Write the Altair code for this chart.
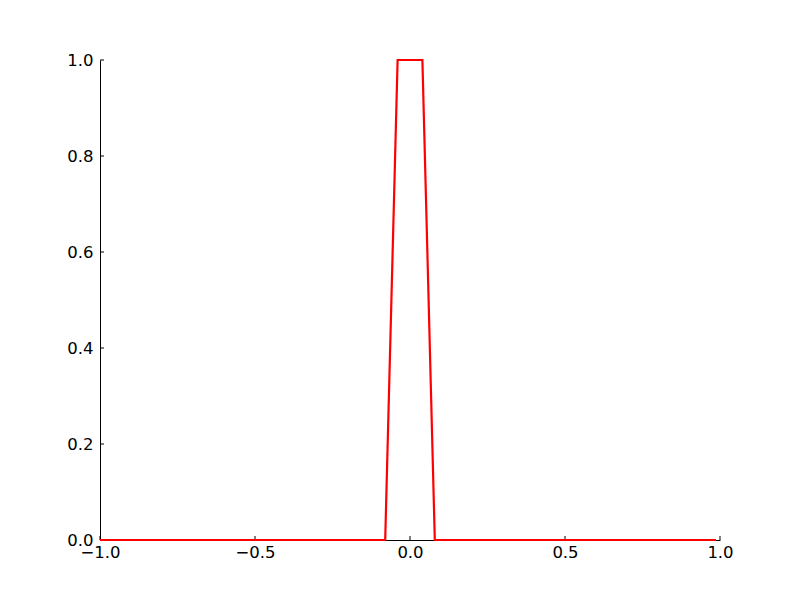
import altair as alt
import pandas as pd

# key points of the curve (x, y)
xs = [-1.0, -0.08, -0.04, 0.04, 0.08, 0.987]
ys = [0.0, 0.0, 1.0, 1.0, 0.0, 0.0]

xticks = [-1.0, -0.5, 0.0, 0.5, 1.0]
yticks = [0.0, 0.2, 0.4, 0.6, 0.8, 1.0]

line_df = pd.DataFrame({"x": xs, "y": ys})
xt_df = pd.DataFrame({"v": xticks})
yt_df = pd.DataFrame({"v": yticks})

FONT = "DejaVu Sans"
minus = "replace(datum.label, '-', '\u2212')"

xscale = alt.Scale(domain=[-1, 1], nice=False, zero=False)
yscale = alt.Scale(domain=[0, 1], nice=False, zero=False)

line = alt.Chart(line_df).mark_line(color="#ff0000", strokeWidth=2.2).encode(
    x=alt.X("x:Q", scale=xscale, title=None,
            axis=alt.Axis(values=xticks, format=".1f", labelExpr=minus, ticks=False,
                          grid=False, domainColor="black", domainWidth=1,
                          labelFont=FONT, labelFontSize=16.5, labelColor="black",
                          labelPadding=4, labelFlush=False)),
    y=alt.Y("y:Q", scale=yscale, title=None,
            axis=alt.Axis(values=yticks, format=".1f", ticks=False, grid=False,
                          domainColor="black", domainWidth=1,
                          labelFont=FONT, labelFontSize=16.5, labelColor="black",
                          labelPadding=7, labelFlush=False)),
)

xt = alt.Chart(xt_df).mark_rule(color="black", strokeWidth=1).encode(
    x=alt.X("v:Q", scale=xscale),
    y=alt.value(480), y2=alt.value(476),
)
yt = alt.Chart(yt_df).mark_rule(color="black", strokeWidth=1).encode(
    y=alt.Y("v:Q", scale=yscale),
    x=alt.value(0), x2=alt.value(4),
)

chart = alt.layer(xt, yt, line).properties(
    width=620, height=480,
    background="white",
    autosize=alt.AutoSizeParams(type="none"),
    padding={"left": 92, "top": 52, "right": 72, "bottom": 52},
).configure_view(stroke=None, strokeWidth=0)

chart.save("out.html", embed_options={"renderer": "svg", "actions": False})
